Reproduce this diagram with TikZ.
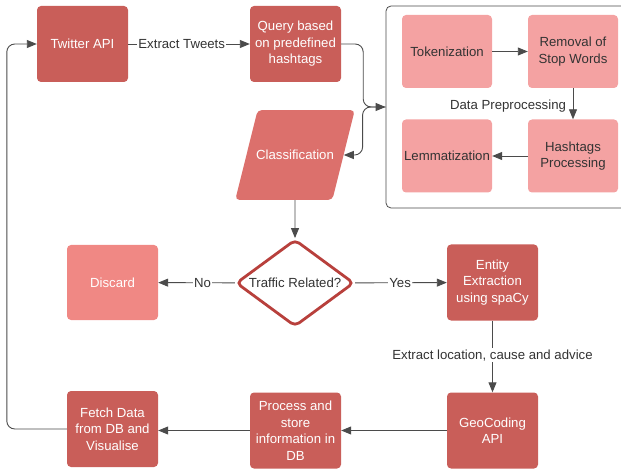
\documentclass[tikz,border=0pt]{standalone}
\usepackage{fontspec}
\setmainfont{Liberation Sans}
\usepackage{xcolor}
\usepackage{tikz}
\usetikzlibrary{positioning}
\usetikzlibrary{arrows.meta,shapes}
\usetikzlibrary{calc}
\definecolor{boxred}{RGB}{201,94,89}
\definecolor{classred}{RGB}{220,112,108}
\definecolor{discardred}{RGB}{240,136,132}
\definecolor{boxpink}{RGB}{244,162,162}
\definecolor{diamondred}{RGB}{184,64,60}
\definecolor{linegray}{RGB}{75,75,75}
\definecolor{textgray}{RGB}{51,51,51}
\newcommand{\flowfont}{\fontsize{13.2}{16.5}\selectfont}
\tikzstyle{redbox}=[rectangle,rounded corners=4pt,fill=boxred,text=white,minimum width=91pt,minimum height=76pt,inner sep=2pt,align=center,font=\flowfont]
\tikzstyle{pinkbox}=[rectangle,rounded corners=4pt,fill=boxpink,text=textgray,minimum width=90pt,minimum height=73pt,inner sep=2pt,align=center,font=\flowfont]
\tikzstyle{groupbox}=[rectangle,rounded corners=5pt,draw=linegray,line width=0.8pt,minimum width=254pt,minimum height=202pt]
\tikzstyle{inputbox}=[trapezium,trapezium left angle=76,trapezium right angle=104,trapezium stretches body,rounded corners=4pt,fill=classred,text=white,minimum width=118pt,inner xsep=-1.5pt,inner ysep=40pt,font=\flowfont]
\tikzstyle{decision}=[diamond,aspect=1.36,fill=white,draw=diamondred,line width=2.8pt,rounded corners=5pt,minimum width=118pt,minimum height=87pt,inner sep=0pt,text=textgray,font=\flowfont]
\tikzstyle{edge} = [draw,line width=0.9pt,color=linegray,-{Triangle[length=10pt,width=8pt]}]
\tikzstyle{weight} = [font=\flowfont,fill=white,text=textgray,inner sep=1pt]

\begin{document}
\begin{tikzpicture}[x=1pt,y=-1pt]

  \useasboundingbox (0,0) rectangle (621,470);

  % preprocessing group
  \node[groupbox] (prep) at (513,107) {};
  \node[font=\flowfont,text=textgray] (preplabel) at (508,106) {Data Preprocessing};

  \foreach \x/\y/\name/\label in {447/51.5/token/{Tokenization}, 573/51.5/stop/{Removal of\\Stop Words},
                                  573/156/hashtag/{Hashtags\\Processing}, 447/156/lemma/{Lemmatization}}
         \node[pinkbox] (\name) at (\x,\y) {\label};

  \foreach \source/\dest in {token/stop, stop/hashtag, hashtag/lemma}
         \path[edge] (\source) -- (\dest);

  \foreach \x/\y/\name/\label in {82.5/44/twitter/{Twitter API}, 295.5/44/query/{Query based\\on predefined\\hashtags},
                                  492.5/282.5/entity/{Entity\\Extraction\\using spaCy}, 492.5/430.5/geo/{GeoCoding\\API},
                                  295.5/430.5/store/{Process and\\store\\information in\\DB}, 112.5/429/fetch/{Fetch Data\\from DB and\\Visualise}}
         \node[redbox] (\name) at (\x,\y) {\label};

  \node[redbox,fill=discardred,minimum height=75pt] (discard) at (112.5,282.5) {Discard};
  \node[inputbox] (class) at (295,155) {Classification};
  \node[decision] (traffic) at (295,283) {Traffic Related?};

  \foreach \source/\dest/\weight/\p in {twitter/query/{Extract Tweets}/0.44, traffic/discard/{No}/0.42,
                                        traffic/entity/{Yes}/0.49, entity/geo/{Extract location, cause and advice}/0.48}
         \path[edge] (\source) -- node[weight,pos=\p] {\weight} (\dest);

  \path[edge] (class) -- (traffic);
  \path[edge] (geo.west) -- (store.east);
  \path[edge] (store.west) -- (store.west -| fetch.east);

  \path[edge,rounded corners=8pt] (query.east) -- ++(22,0) |- (prep.west);
  \path[edge,rounded corners=8pt] (prep.west) -- ++(-23,0) |- (class.east);
  \path[edge,rounded corners=8pt] (fetch.west) -- ++(-60,0) |- (twitter.west);

\end{tikzpicture}
\end{document}
